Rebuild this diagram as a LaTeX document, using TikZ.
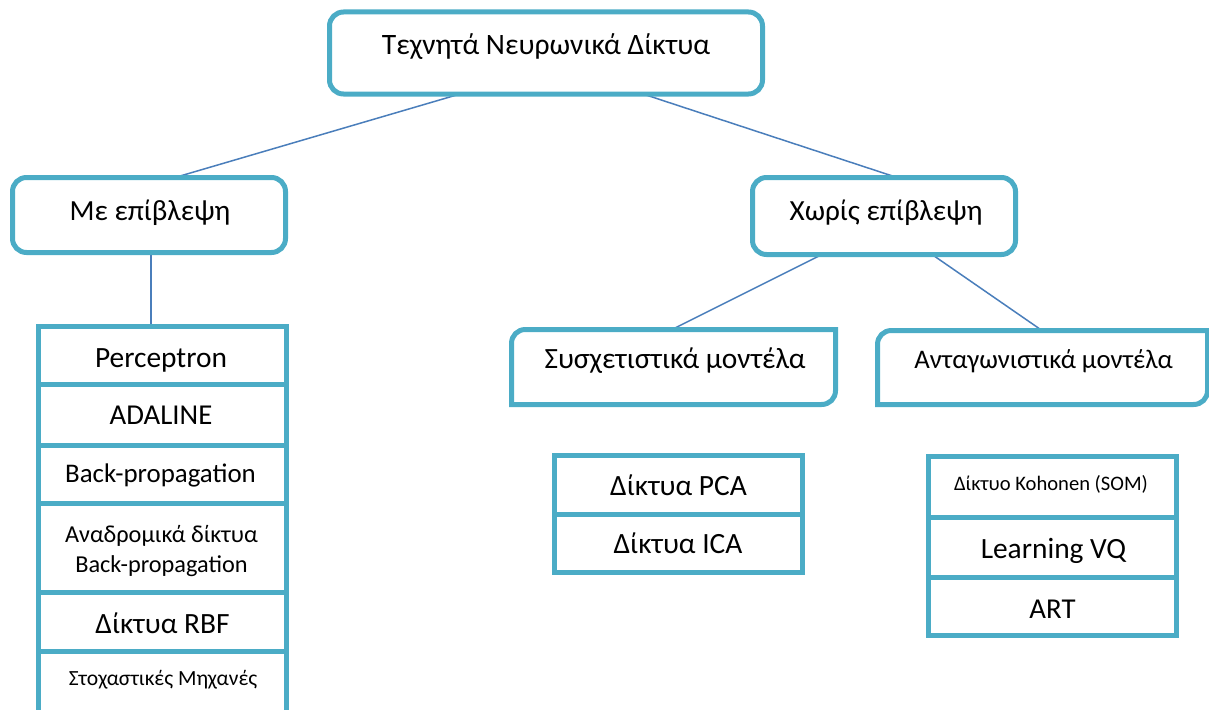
\documentclass[tikz,border=0pt]{standalone}
\usepackage{fontspec}
\setmainfont{Carlito}
\usetikzlibrary{calc}
\definecolor{boxblue}{HTML}{4BACC6}
\definecolor{linkblue}{HTML}{4A7EBB}
\newcommand\fsz[1]{\fontsize{#1}{#1}\selectfont}
% outline with rounded top-left and bottom-right corners
\newcommand\diagoutline[1]{%
  \draw[boxline] (#1.south west) -- ($(#1.north west)+(0,14)$)
    .. controls ($(#1.north west)+(0,6)$) and ($(#1.north west)+(6,0)$) .. ($(#1.north west)+(14,0)$)
    -- (#1.north east) -- ($(#1.south east)+(0,-14)$)
    .. controls ($(#1.south east)+(0,-6)$) and ($(#1.south east)+(-6,0)$) .. ($(#1.south east)+(-14,0)$)
    -- cycle;}
\tikzset{
  boxline/.style={draw=boxblue, line width=5pt, line join=miter},
  dbox/.style={rectangle, draw=none, inner sep=0pt, outer sep=0pt},
  txt/.style={anchor=base, inner sep=0pt, text=black},
  conn/.style={draw=linkblue, line width=1.5pt},
}
\begin{document}
\begin{tikzpicture}[x=1pt, y=-1pt]
\useasboundingbox (0,0) rectangle (1209,709);

% box geometry (outlines are stroked afterwards)
\node[dbox, minimum width=433pt, minimum height=82pt] (top) at (546,53) {};
\node[dbox, minimum width=273pt, minimum height=75pt] (sup) at (149,215) {};
\node[dbox, minimum width=263pt, minimum height=77pt] (unsup) at (884,216) {};
\node[dbox, minimum width=324pt, minimum height=75pt] (assoc) at (673.5,367) {};
\node[dbox, minimum width=330pt, minimum height=74pt] (comp) at (1042.5,367.5) {};

\node[dbox, minimum width=248pt, minimum height=58pt] (perc) at (162,355.5) {};
\node[dbox, minimum width=248pt, minimum height=60.5pt] (ada) at (162,414.75) {};
\node[dbox, minimum width=248pt, minimum height=58.5pt] (back) at (162,474.25) {};
\node[dbox, minimum width=248pt, minimum height=89pt] (recur) at (162,548) {};
\node[dbox, minimum width=248pt, minimum height=59pt] (rbf) at (162,622) {};
\node[dbox, minimum width=248pt, minimum height=68.5pt] (stoch) at (162,685.75) {};

\node[dbox, minimum width=248pt, minimum height=58.5pt] (pca) at (678.5,484.75) {};
\node[dbox, minimum width=248pt, minimum height=58.5pt] (ica) at (678.5,543.25) {};

\node[dbox, minimum width=248pt, minimum height=61pt] (koh) at (1052.5,487) {};
\node[dbox, minimum width=248pt, minimum height=60pt] (lvq) at (1052.5,547.5) {};
\node[dbox, minimum width=248pt, minimum height=58pt] (art) at (1052.5,606.5) {};

% connectors
\draw[conn] ($(top.south west)+(130.5,0)$) -- ($(sup.north west)+(162.5,0)$);
\draw[conn] ($(top.south west)+(313.5,0)$) -- ($(unsup.north west)+(144.5,0)$);
\draw[conn] ($(sup.south west)+(138.5,0)$) -- ($(perc.north west)+(113,0)$);
\draw[conn] ($(unsup.south west)+(69.5,0)$) -- ($(assoc.north west)+(160.5,0)$);
\draw[conn] ($(unsup.south west)+(179.5,0)$) -- ($(comp.north west)+(164.5,0)$);

% outlines
\foreach \n in {top,sup,unsup}{
  \draw[boxline, rounded corners=14pt] (\n.south west) rectangle (\n.north east);
}
\diagoutline{assoc}
\diagoutline{comp}
\foreach \n in {perc,ada,back,recur,rbf,stoch,pca,ica,koh,lvq,art}{
  \draw[boxline] (\n.south west) rectangle (\n.north east);
}

% labels
\node[txt, font=\fsz{29.6}] (ttop) at (546,55) {Τεχνητά Νευρωνικά Δίκτυα};
\node[txt, font=\fsz{29.2}] (tsup) at (150,220) {Με επίβλεψη};
\node[txt, font=\fsz{29.2}] (tunsup) at (886,220) {Χωρίς επίβλεψη};
\node[txt, font=\fsz{29.4}] (tassoc) at (675,368) {Συσχετιστικά μοντέλα};
\node[txt, font=\fsz{26.8}] (tcomp) at (1043.5,368) {Ανταγωνιστικά μοντέλα};

\node[txt, font=\fsz{29.4}] (tperc) at (161,367) {Perceptron};
\node[txt, font=\fsz{28.8}] (tada) at (161,424) {ADALINE};
\node[txt, font=\fsz{26.9}] (tback) at (160.5,482) {Back-propagation};
\node[txt, font=\fsz{24.3}] (trec1) at (161.5,542) {Αναδρομικά δίκτυα};
\node[txt, font=\fsz{24.3}] (trec2) at (161.5,572) {Back-propagation};
\node[txt, font=\fsz{29.4}] (trbf) at (162.5,633) {Δίκτυα RBF};
\node[txt, font=\fsz{21.6}] (tstoch) at (163,685) {Στοχαστικές Μηχανές};

\node[txt, font=\fsz{29.4}] (tpca) at (678.5,495) {Δίκτυα PCA};
\node[txt, font=\fsz{29.4}] (tica) at (678,553) {Δίκτυα ICA};

\node[txt, font=\fsz{20.6}] (tkoh) at (1051,490) {Δίκτυο Kohonen (SOM)};
\node[txt, font=\fsz{29.4}] (tlvq) at (1053.5,558) {Learning VQ};
\node[txt, font=\fsz{28.8}] (tart) at (1052.5,618) {ART};
\end{tikzpicture}
\end{document}
